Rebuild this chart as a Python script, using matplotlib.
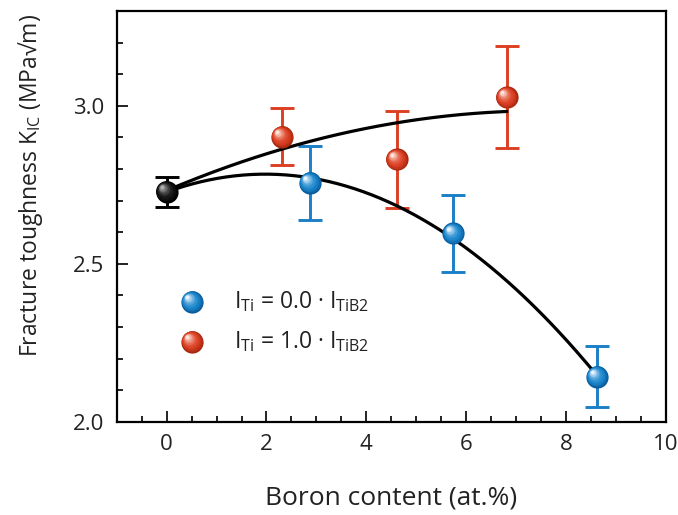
import numpy as np
import matplotlib
matplotlib.use("Agg")
import matplotlib.pyplot as plt
from matplotlib.transforms import offset_copy
from matplotlib.ticker import MultipleLocator, FormatStrFormatter

plt.rcParams['font.family'] = ['Open Sans', 'DejaVu Sans']
plt.rcParams['mathtext.fontset'] = 'custom'
plt.rcParams['mathtext.rm'] = 'Open Sans'

# reference sample (no boron)
ref_x = [0.0]
ref_y = [2.728]
ref_err = [0.048]

# I_Ti = 0.0 * I_TiB2
blue_x = [2.87, 5.74, 8.62]
blue_y = [2.756, 2.596, 2.142]
blue_err = [0.117, 0.121, 0.097]

# I_Ti = 1.0 * I_TiB2
red_x = [2.31, 4.61, 6.81]
red_y = [2.902, 2.830, 3.027]
red_err = [0.090, 0.153, 0.162]

labels = [r'$\mathregular{I_{Ti}}$ = 0.0 · $\mathregular{I_{TiB2}}$',
          r'$\mathregular{I_{Ti}}$ = 1.0 · $\mathregular{I_{TiB2}}$']

BLUE = '#1a7fc6'
RED = '#dc3f22'


def mix(c1, c2, t):
    a = np.array(matplotlib.colors.to_rgb(c1))
    b = np.array(matplotlib.colors.to_rgb(c2))
    return tuple(a + (b - a) * t)


def spheres(ax, xs, ys, body, dark, light, size=16, transform=None, z=5):
    # fake 3d ball: stacked circles shrinking towards an upper-left highlight
    if transform is None:
        transform = ax.transData
    n = 14
    for k in range(n):
        t = k / (n - 1)
        ms = size * (1 - 0.85 * t)
        dx = -size * 0.22 * t
        dy = size * 0.22 * t
        if t < 0.3:
            col = mix(dark, body, t / 0.3)
        else:
            col = mix(body, light, ((t - 0.3) / 0.7) ** 1.6)
        tr = offset_copy(transform, fig=ax.figure, x=dx, y=dy, units='points')
        ax.plot(xs, ys, 'o', ms=ms, color=col, mec='none', transform=tr,
                zorder=z + k * 0.01, clip_on=False)


fig = plt.figure(figsize=(6.78, 5.15), dpi=100)
ax = fig.add_axes([0.1721, 0.1812, 0.8102, 0.7974])

# weighted quadratic fits, each series together with the reference point
xu = np.array(ref_x + red_x)
yu = np.array(ref_y + red_y)
wu = 1 / np.array(ref_err + red_err)
xl = np.array(ref_x + blue_x)
yl = np.array(ref_y + blue_y)
wl = 1 / np.array(ref_err + blue_err)
pu = np.polyfit(xu, yu, 2, w=wu)
pl = np.polyfit(xl, yl, 2, w=wl)
gu = np.linspace(0, red_x[-1], 200)
gl = np.linspace(0, 8.5, 200)
ax.plot(gu, np.polyval(pu, gu), color='black', lw=2.3, zorder=3)
ax.plot(gl, np.polyval(pl, gl), color='black', lw=2.3, zorder=3)

ekw = dict(fmt='none', elinewidth=2.1, capsize=8.3, capthick=2.1, zorder=2)
ax.errorbar(ref_x, ref_y, yerr=ref_err, ecolor='black', **ekw)
ax.errorbar(blue_x, blue_y, yerr=blue_err, ecolor=BLUE, **ekw)
ax.errorbar(red_x, red_y, yerr=red_err, ecolor=RED, **ekw)

spheres(ax, ref_x, ref_y, '#151515', '#000000', '#b0b0b0')
spheres(ax, blue_x, blue_y, '#1a86cc', '#0b5c9c', '#e8f4ff')
spheres(ax, red_x, red_y, '#dc4024', '#a82810', '#ffe6dc')

# legend built by hand
spheres(ax, [0.137], [0.292], '#1a86cc', '#0b5c9c', '#e8f4ff', transform=ax.transAxes)
spheres(ax, [0.137], [0.195], '#dc4024', '#a82810', '#ffe6dc', transform=ax.transAxes)
ax.text(0.2135, 0.292, labels[0], transform=ax.transAxes, fontsize=16.5,
        va='center', ha='left', color='#222222')
ax.text(0.2135, 0.195, labels[1], transform=ax.transAxes, fontsize=16.5,
        va='center', ha='left', color='#222222')

ax.set_xlim(-1, 10)
ax.set_ylim(2.0, 3.3)
ax.xaxis.set_major_locator(MultipleLocator(2))
ax.xaxis.set_minor_locator(MultipleLocator(0.5))
ax.yaxis.set_major_locator(MultipleLocator(0.5))
ax.yaxis.set_minor_locator(MultipleLocator(0.1))
ax.yaxis.set_major_formatter(FormatStrFormatter('%.1f'))
ax.tick_params(which='both', direction='in', top=False, right=False,
               width=1.4, labelsize=16, colors='#222222')
ax.tick_params(which='major', length=8, pad=9)
ax.tick_params(which='minor', length=4.5)
for s in ax.spines.values():
    s.set_linewidth(1.6)

ax.set_xlabel('Boron content (at.%)', fontsize=19, labelpad=22, color='#222222')
ax.set_ylabel(r'Fracture toughness $\mathregular{K_{IC}}$ (MPa√m)', fontsize=16.5,
              color='#222222')
ax.yaxis.set_label_coords(-0.13, 0.575)

fig.savefig('out.png', dpi=100)
